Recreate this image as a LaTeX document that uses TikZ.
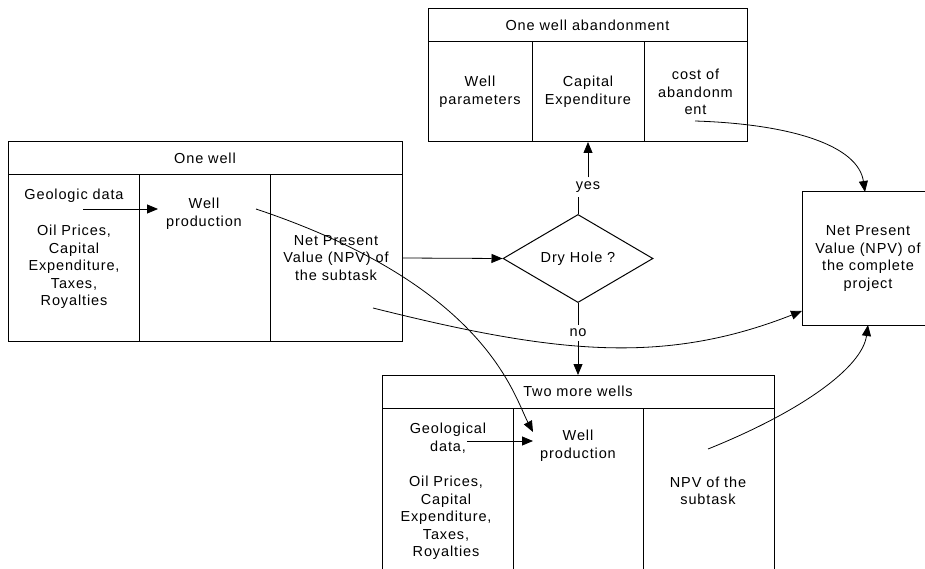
\documentclass[tikz,border=0pt]{standalone}
\usepackage{fontspec}
\setmainfont{Liberation Sans}[LetterSpace=6]
\usetikzlibrary{positioning,shapes.geometric,arrows.meta}

\begin{document}
\begin{tikzpicture}[
x=1pt, y=-1pt,
font=\fontsize{14.5}{17.6}\selectfont,
cell/.style={rectangle, draw=black, line width=1pt, inner sep=0pt, outer sep=0pt, align=center},
txt/.style={align=center, inner sep=0pt},
lbl/.style={inner sep=4pt},
flow/.style={-{Triangle[length=11pt,width=9pt]}, line width=0.8pt},
link/.style={line width=0.8pt},
decision/.style={diamond, draw=black, line width=1pt, inner sep=0pt, minimum width=150pt, minimum height=66pt}]

\useasboundingbox (0,0) rectangle (925,569);

% one well
\node[cell, minimum width=394pt, minimum height=33pt] (w1t) at (205,158.5) {One well};
\node[cell, minimum width=131pt, minimum height=166pt] (w1a) [below right = 0pt and 0pt of w1t.south west] {};
\node[cell, minimum width=131pt, minimum height=166pt] (w1b) [right = 0pt of w1a] {};
\node[cell, minimum width=132pt, minimum height=166pt] (w1c) [right = 0pt of w1b] {Net Present\\Value (NPV) of\\the subtask};

\node[txt] (geo1) at (74,196) {Geologic data};
\node[txt] (oil1) at (74,267) {Oil Prices,\\Capital\\Expenditure,\\Taxes,\\Royalties};
\node[txt] (prod1) at (204,214) {Well\\production};

% one well abandonment
\node[cell, minimum width=319pt, minimum height=33pt] (abt) at (587.5,25.5) {One well abandonment};
\node[cell, minimum width=104pt, minimum height=100pt] (aba) [below right = 0pt and 0pt of abt.south west] {Well\\parameters};
\node[cell, minimum width=112pt, minimum height=100pt] (abb) [right = 0pt of aba] {Capital\\Expenditure};
\node[cell, minimum width=103pt, minimum height=100pt] (abc) [right = 0pt of abb] {cost of\\abandonm\\ent};

% two more wells
\node[cell, minimum width=392pt, minimum height=33pt] (w2t) at (578,391.5) {Two more wells};
\node[cell, minimum width=131pt, minimum height=212pt] (w2a) [below right = 0pt and 0pt of w2t.south west] {};
\node[cell, minimum width=130pt, minimum height=212pt] (w2b) [right = 0pt of w2a] {};
\node[cell, minimum width=131pt, minimum height=212pt] (w2c) [right = 0pt of w2b] {};

\node[txt] (geo2) at (448,438) {Geological\\data,};
\node[txt] (oil2) at (446,518) {Oil Prices,\\Capital\\Expenditure,\\Taxes,\\Royalties};
\node[txt] (prod2) at (578,446) {Well\\production};
\node[txt] (npv2) at (708,491) {NPV of the\\subtask};

% decision and result
\node[decision] (dry) at (578,258.5) {Dry Hole ?};
\node[cell, minimum width=132pt, minimum height=133pt] (npv) at (868,258.5) {Net Present\\Value (NPV) of\\the complete\\project};

\node[lbl] (yes) at (588,187) {yes};
\node[lbl] (no) at (578,333) {no};

\coordinate (g1) at (83,209);
\coordinate (p1) at (158,209);
\coordinate (q1) at (256,209);
\coordinate (s1) at (373,308);
\coordinate (g2) at (467,441);
\coordinate (p2) at (533,441);
\coordinate (q2) at (533,432);
\coordinate (ab1) at (695,121);
\coordinate (n2) at (708,449);

\draw[flow] (g1) -- (p1);
\draw[flow] (g2) -- (p2);
\draw[flow] (w1c.east) -- (dry.west);
\draw[link] (dry.north) -- (dry.north |- yes.south);
\draw[flow] (yes.north) -- (abb.south);
\draw[link] (dry.south) -- (no);
\draw[flow] (no) -- (w2t.north);

\draw[flow] (q1) .. controls (486,286) and (513,394) .. (q2);
\draw[flow] (s1) .. controls (553,353) and (662,366) .. ([yshift=14pt]npv.south west);
\draw[flow] (ab1) .. controls (790,124) and (858,145) .. ([xshift=-3pt]npv.north);
\draw[flow] (n2) .. controls (800,412) and (862,368) .. (npv.south);
\end{tikzpicture}
\end{document}
